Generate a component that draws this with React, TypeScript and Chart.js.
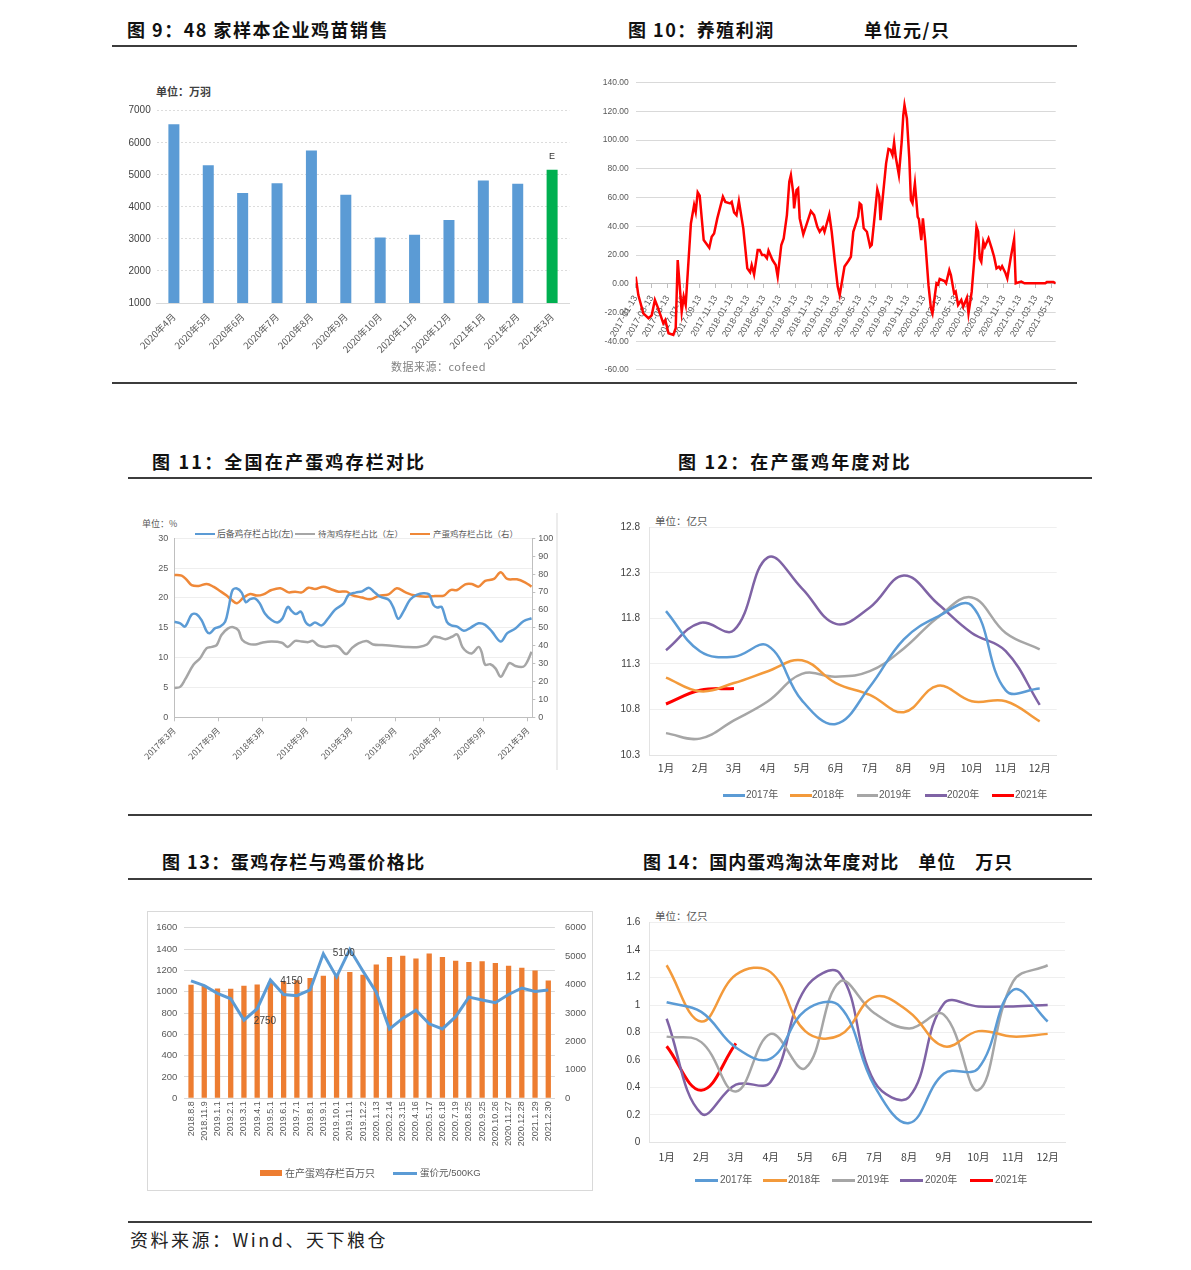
import React, { useEffect, useRef } from "react";
import { Chart, registerables } from "chart.js";

Chart.register(...registerables);

const CJK = '"Noto Sans CJK SC", "Noto Sans", sans-serif';
const NUM = '"Liberation Sans", "Noto Sans CJK SC", sans-serif';
const NARROW = '"Liberation Sans Narrow", "Liberation Sans", "Noto Sans CJK SC", sans-serif';
Chart.defaults.font.family = NUM;

// ---------------- 图9 ----------------
const c9Months = ["2020年4月", "2020年5月", "2020年6月", "2020年7月", "2020年8月", "2020年9月", "2020年10月", "2020年11月", "2020年12月", "2021年1月", "2021年2月", "2021年3月"];
const c9Sales = [6580, 5300, 4430, 4740, 5760, 4380, 3040, 3130, 3590, 4820, 4720, 5160];
const c9EstimateMark = "E";

// ---------------- 图10 ----------------
// months since 2017-01-13
const c10Month = [0, 0.33, 0.95, 1.6, 2.0, 2.4, 2.8, 3.45, 3.7, 4.1, 4.7, 5.0, 5.25, 5.75, 6.0, 6.25, 6.9, 7.3, 7.5, 7.75, 8.0, 8.5, 9.2, 9.5, 9.8, 10.2, 10.9, 11.2, 11.8, 12.0, 12.3, 12.6, 12.9, 13.45, 13.95, 14.3, 14.5, 14.8, 15.25, 15.5, 15.8, 16.1, 16.4, 16.6, 17.1, 17.5, 17.75, 18.2, 18.5, 18.9, 19.2, 19.4, 19.7, 19.8, 20.1, 20.3, 20.5, 20.95, 21.4, 21.9, 22.3, 22.7, 23.0, 23.4, 23.6, 24.2, 24.5, 24.9, 25.25, 25.5, 26.1, 26.6, 26.9, 27.2, 27.8, 28.0, 28.2, 28.5, 28.9, 29.3, 29.5, 29.8, 30.2, 30.45, 30.6, 30.95, 31.3, 31.6, 31.85, 32.1, 32.3, 32.5, 32.9, 33.25, 33.45, 33.6, 33.9, 34.2, 34.4, 34.6, 34.9, 35.25, 35.4, 35.7, 35.9, 36.2, 36.6, 36.9, 37.1, 37.4, 37.6, 37.8, 38.0, 38.6, 38.8, 39.2, 39.4, 39.8, 40.0, 40.3, 40.7, 40.95, 41.4, 41.6, 42.0, 42.3, 42.6, 42.8, 43.0, 43.2, 43.45, 43.65, 44.1, 44.5, 44.8, 45.1, 45.4, 45.6, 45.8, 46.2, 46.45, 46.9, 47.3, 47.5, 48.2, 48.6, 51.2, 51.4, 52.2, 52.5];
const c10Profit = [5, -7.9, -20.6, -24, -22, -11.3, -17, -27.6, -25.3, -34.5, -35.7, -31, 16.5, -19.5, -9, -14.8, 42, 54.8, 50, 63.6, 61.3, 30.4, 25, 32.7, 35, 45.5, 60.6, 57, 56, 57, 49.7, 47.8, 57.6, 38.6, 10.7, 8, 13, 6.5, 23.5, 23.5, 20, 20, 17.7, 23, 16.5, 13, 4.9, 27, 31.6, 47.8, 71, 75.7, 63, 52.5, 65.2, 66.4, 45.5, 34.4, 42, 50.6, 47.8, 39.7, 36.2, 39.3, 36.2, 48.3, 36.2, 15.3, -2, -7.9, 12, 16, 18.8, 36.2, 46.6, 56, 55, 38.6, 36.2, 25.8, 27, 43.2, 65.7, 60.6, 44.3, 64, 83.8, 93.8, 93.3, 89.6, 98.4, 88.4, 75.7, 98.9, 117.4, 124.4, 115, 87.3, 58.3, 56, 69.9, 46.6, 45, 30.4, 45.5, 29.2, -1, -17, -20.6, -7.9, 0.3, -0.5, 3.3, 1.9, 0.3, 9.5, 6, -6.7, -5.5, -14.8, -11.3, -16, -9.7, -20.6, -5.5, 15.3, 39.7, 36.2, 17.7, 15.3, 29.2, 25.8, 31.6, 24.6, 18.8, 10.7, 11.8, 10.2, 12.2, 7.7, 3.7, 18.8, 30.9, 0.3, 1.5, 0.3, 0.3, 1.2, 1.2, 0.3];
const c10TickLabels = ["2017-01-13", "2017-03-13", "2017-05-13", "2017-07-13", "2017-09-13", "2017-11-13", "2018-01-13", "2018-03-13", "2018-05-13", "2018-07-13", "2018-09-13", "2018-11-13", "2019-01-13", "2019-03-13", "2019-05-13", "2019-07-13", "2019-09-13", "2019-11-13", "2020-01-13", "2020-03-13", "2020-05-13", "2020-07-13", "2020-09-13", "2020-11-13", "2021-01-13", "2021-03-13", "2021-05-13"];

// ---------------- 图11 ----------------
// months since 2017-03
const c11ReserveMonth = [0, 0.8, 1.45, 2.35, 3.0, 3.7, 4.4, 4.85, 5.5, 6.2, 6.9, 7.4, 7.9, 8.5, 9.15, 9.7, 10.3, 11.0, 11.6, 12.3, 13.2, 14.0, 14.7, 15.4, 15.95, 16.5, 17.2, 17.8, 18.4, 19.1, 20.0, 20.9, 21.8, 23.0, 23.65, 24.6, 25.5, 26.4, 27.05, 27.95, 29.1, 29.7, 30.4, 31.1, 32.0, 32.9, 33.8, 34.6, 35.2, 35.7, 36.3, 37.0, 37.6, 38.4, 39.3, 40.2, 41.3, 42.2, 43.1, 44.3, 45.2, 46.3, 47.4, 48.5];
const c11ReserveShare = [16.0, 15.75, 15.2, 17.2, 17.3, 16.3, 14.4, 14.1, 14.9, 15.2, 16.0, 18.5, 21.3, 21.6, 20.9, 19.3, 19.8, 19.9, 19.1, 17.4, 16.3, 15.9, 16.6, 18.5, 17.8, 17.3, 17.7, 16.0, 15.4, 15.9, 15.4, 16.6, 18.0, 19.1, 20.5, 20.9, 21.1, 21.7, 21.1, 20.2, 19.7, 18.5, 16.5, 17.7, 19.7, 20.5, 20.8, 20.6, 18.8, 18.4, 18.5, 16.0, 15.4, 15.2, 14.5, 15.0, 15.75, 15.5, 14.4, 12.7, 14.1, 14.9, 16.1, 16.6];
const c11CullMonth = [0, 0.8, 1.45, 2.6, 3.5, 4.4, 5.1, 5.75, 6.4, 7.3, 8.0, 8.7, 9.2, 10.1, 11.0, 11.9, 13.2, 14.6, 15.4, 16.4, 17.3, 18.2, 18.8, 19.6, 20.5, 21.6, 22.3, 23.3, 24.1, 25.0, 26.1, 27.0, 28.2, 29.5, 31.4, 33.2, 34.3, 35.2, 35.9, 36.8, 37.7, 38.4, 39.1, 39.7, 40.4, 41.3, 41.7, 42.2, 42.9, 43.6, 44.3, 44.9, 45.5, 46.3, 47.4, 47.9, 48.5];
const c11CullShare = [4.9, 5.1, 6.3, 8.8, 9.9, 11.6, 11.8, 12.1, 13.8, 14.9, 15.1, 14.6, 13.0, 12.3, 12.2, 12.5, 12.7, 12.5, 11.8, 12.8, 12.7, 12.6, 12.8, 12.0, 11.8, 12.0, 11.8, 10.6, 11.6, 12.4, 12.8, 12.2, 12.1, 12.0, 11.8, 11.8, 12.2, 13.5, 13.4, 13.1, 13.5, 13.9, 11.8, 11.0, 10.7, 11.8, 11.0, 8.8, 8.9, 8.2, 6.8, 7.9, 9.1, 8.6, 8.5, 9.3, 11.0];
const c11LayingMonth = [0, 1.0, 1.7, 2.35, 3.3, 4.4, 5.3, 6.2, 7.1, 7.8, 8.5, 9.4, 10.3, 11.2, 12.1, 13.2, 14.4, 15.5, 16.4, 17.3, 18.2, 19.1, 20.25, 21.2, 22.3, 23.4, 24.1, 25.5, 26.6, 27.7, 29.1, 30.2, 31.4, 32.7, 34.1, 35.4, 36.6, 37.5, 38.4, 39.5, 40.4, 41.3, 42.2, 43.4, 44.3, 45.2, 46.5, 47.6, 48.5];
const c11LayingShare = [79.5, 79.1, 76.7, 73.9, 73.4, 74.5, 73.0, 70.6, 68.0, 65.5, 63.7, 66.9, 68.9, 68.0, 68.7, 71.1, 72.1, 69.8, 70.2, 69.8, 72.4, 71.7, 73.0, 71.7, 70.2, 70.2, 68.3, 66.9, 65.9, 67.8, 68.7, 72.1, 69.8, 68.0, 67.4, 67.8, 68.0, 71.1, 71.1, 74.3, 74.5, 73.0, 76.2, 77.3, 81.0, 77.3, 77.1, 75.4, 73.0];
const c11TickLabels = ["2017年3月", "2017年9月", "2018年3月", "2018年9月", "2019年3月", "2019年9月", "2020年3月", "2020年9月", "2021年3月"];
const c11SeriesNames = ["后备鸡存栏占比(左)", "待淘鸡存栏占比（左）", "产蛋鸡存栏占比（右）"];

// ---------------- 图12 ----------------
const monthLabels = ["1月", "2月", "3月", "4月", "5月", "6月", "7月", "8月", "9月", "10月", "11月", "12月"];
const yearNames = ["2017年", "2018年", "2019年", "2020年", "2021年"];
const c12Y2017 = [11.88, 11.44, 11.38, 11.5, 10.9, 10.64, 11.05, 11.57, 11.82, 11.94, 11.01, 11.03];
const c12Y2018 = [11.15, 11.0, 11.09, 11.22, 11.34, 11.09, 10.96, 10.77, 11.06, 10.89, 10.89, 10.67];
const c12Y2019 = [10.54, 10.48, 10.68, 10.89, 11.19, 11.16, 11.22, 11.47, 11.81, 12.03, 11.64, 11.46];
const c12Y2020 = [11.45, 11.75, 11.67, 12.47, 12.13, 11.74, 11.92, 12.27, 11.96, 11.64, 11.44, 10.85];
const c12Y2021 = [10.86, 11.01, 11.03];

// ---------------- 图13 ----------------
const c13Dates = ["2018.8.8", "2018.11.9", "2019.1.1", "2019.2.1", "2019.3.1", "2019.4.1", "2019.5.1", "2019.6.1", "2019.7.1", "2019.8.1", "2019.9.1", "2019.10.1", "2019.11.1", "2019.12.2", "2020.1.13", "2020.2.14", "2020.3.15", "2020.4.16", "2020.5.17", "2020.6.18", "2020.7.19", "2020.8.25", "2020.9.25", "2020.10.26", "2020.11.27", "2020.12.28", "2021.1.29", "2021.2.30"];
const c13Stock = [1065, 1055, 1030, 1028, 1055, 1068, 1085, 1095, 1107, 1129, 1150, 1168, 1184, 1158, 1254, 1325, 1337, 1312, 1358, 1325, 1291, 1279, 1285, 1270, 1242, 1224, 1199, 1104];
const c13EggPrice = [4130, 3960, 3690, 3500, 2750, 3150, 4160, 3650, 3610, 3810, 5080, 4270, 5240, 4470, 3730, 2440, 2810, 3100, 2620, 2440, 2870, 3560, 3460, 3360, 3650, 3880, 3760, 3810];
const c13SeriesNames = ["在产蛋鸡存栏百万只", "蛋价元/500KG"];
const c13Callouts = [{ index: 4, text: "2750" }, { index: 6, text: "4150" }, { index: 12, text: "5100" }];
const c13CalloutOffsets = [[21, 1], [21, 1], [-6, 4]];

// ---------------- 图14 ----------------
const c14Y2017 = [1.02, 0.95, 0.69, 0.61, 0.96, 0.99, 0.41, 0.14, 0.5, 0.54, 1.11, 0.88];
const c14Y2018 = [1.29, 0.88, 1.22, 1.24, 0.81, 0.78, 1.06, 0.95, 0.7, 0.81, 0.77, 0.79];
const c14Y2019 = [0.77, 0.73, 0.37, 0.79, 0.54, 1.17, 0.94, 0.83, 0.93, 0.38, 1.17, 1.29];
const c14Y2020 = [0.9, 0.21, 0.42, 0.44, 1.12, 1.23, 0.44, 0.33, 1.01, 0.99, 0.99, 1.0];
const c14Y2021 = [0.7, 0.38, 0.72];

// ---------------- styles ----------------
const BLUE = "#5b9bd5";
const ORANGE = "#ed7d31";
const LORANGE = "#f39a3b";
const GRAY = "#a6a6a6";
const PURPLE = "#7f63a5";
const RED = "#ff0000";
const yearColors = [BLUE, LORANGE, GRAY, PURPLE, RED];

const pts = (xs: number[], ys: number[]) => xs.map((x, i) => ({ x, y: ys[i] }));
const fixW = (w: number) => (s: any) => { s.width = w; };
const fixH = (h: number) => (s: any) => { s.height = h; };
const plain = (v: number) => String(v);

function ChartCanvas({ left, top, width, height, make }: { left: number; top: number; width: number; height: number; make: () => any }) {
  const ref = useRef<HTMLCanvasElement>(null);
  useEffect(() => {
    const chart = new Chart(ref.current as HTMLCanvasElement, make());
    return () => chart.destroy();
  }, []);
  return <canvas ref={ref} width={width} height={height} style={{ position: "absolute", left, top, width, height }} />;
}

function T({ x, cy, size, color = "#222", children, weight = 400, ls = 0, family = CJK }: any) {
  return (
    <div style={{ position: "absolute", left: x, top: cy - size * 0.6, fontSize: size, lineHeight: `${size * 1.2}px`, color, whiteSpace: "nowrap", fontFamily: family, fontWeight: weight, letterSpacing: ls }}>
      {children}
    </div>
  );
}

function Rule({ x1, x2, y }: { x1: number; x2: number; y: number }) {
  return <div style={{ position: "absolute", left: x1, top: y - 0.75, width: x2 - x1, height: 1.5, background: "#3c3c3c" }} />;
}

function Key({ x1, x2, y, color, thick = 3, text, tx, size = 10, tcolor = "#595959" }: any) {
  return (
    <>
      <div style={{ position: "absolute", left: x1, top: y - thick / 2, width: x2 - x1, height: thick, background: color }} />
      <T x={tx} cy={y} size={size} color={tcolor} family={NUM}>{text}</T>
    </>
  );
}

const noop = { legend: { display: false }, tooltip: { enabled: false } };

function makeC9() {
  const ePlugin = {
    id: "emark",
    afterDatasetsDraw(chart: any) {
      const meta = chart.getDatasetMeta(0);
      const el = meta.data[meta.data.length - 1];
      const ctx = chart.ctx;
      ctx.save();
      ctx.font = `9px ${NUM}`;
      ctx.fillStyle = "#333";
      ctx.textAlign = "center";
      ctx.textBaseline = "middle";
      ctx.fillText(c9EstimateMark, el.x, el.y - 13);
      ctx.restore();
    },
  };
  return {
    type: "bar",
    data: {
      labels: c9Months,
      datasets: [{
        data: c9Sales,
        backgroundColor: c9Sales.map((_, i) => (i === c9Sales.length - 1 ? "#00b050" : BLUE)),
        barPercentage: 0.32,
        categoryPercentage: 1,
      }],
    },
    options: {
      responsive: false, animation: false, devicePixelRatio: 1,
      layout: { padding: { left: 0, right: 22.7, top: 50.7, bottom: 0 } },
      plugins: noop,
      scales: {
        x: {
          grid: { display: false, drawTicks: false },
          border: { color: "#d9d9d9" },
          ticks: { font: { size: 9.5, family: CJK }, color: "#595959", minRotation: 45, maxRotation: 45, autoSkip: false, padding: 8 },
          afterFit: fixH(79),
        },
        y: {
          min: 1000, max: 7000,
          ticks: { stepSize: 1000, font: { size: 10 }, color: "#404040", padding: 6, callback: plain },
          grid: { color: "#dcdcdc", drawTicks: false },
          border: { display: false, dash: [2, 2] },
          afterFit: fixW(44.7),
        },
      },
    },
    plugins: [ePlugin],
  };
}

function makeC10() {
  return {
    type: "line",
    data: {
      datasets: [{ data: pts(c10Month, c10Profit), borderColor: RED, borderWidth: 2.5, pointRadius: 0, tension: 0 }],
    },
    options: {
      responsive: false, animation: false, devicePixelRatio: 1,
      layout: { padding: { left: 0, right: 22.3, top: 20.7, bottom: 12 } },
      plugins: noop,
      scales: {
        x: {
          type: "linear", position: { y: 0 }, min: 0, max: 52.5,
          ticks: {
            stepSize: 2, autoSkip: false, includeBounds: false, minRotation: 60, maxRotation: 60, padding: 6,
            font: { size: 9, family: NARROW }, color: "#595959",
            callback: (v: number) => c10TickLabels[Math.round(v / 2)] ?? "",
          },
          grid: { drawOnChartArea: false, tickLength: 4, color: "#bfbfbf" },
          border: { color: "#bfbfbf" },
        },
        y: {
          min: -60, max: 140,
          ticks: { stepSize: 20, font: { size: 8.5, family: NARROW }, color: "#595959", padding: 7, callback: (v: number) => v.toFixed(2) },
          grid: { color: "#d9d9d9", drawTicks: false },
          border: { display: false },
          afterFit: fixW(35.7),
        },
      },
    },
  };
}

function makeC11() {
  const common = { borderWidth: 2.5, pointRadius: 0, tension: 0.35 };
  return {
    type: "line",
    data: {
      datasets: [
        { ...common, data: pts(c11ReserveMonth, c11ReserveShare), borderColor: BLUE, yAxisID: "y" },
        { ...common, data: pts(c11CullMonth, c11CullShare), borderColor: GRAY, yAxisID: "y" },
        { ...common, data: pts(c11LayingMonth, c11LayingShare), borderColor: "#ef8838", yAxisID: "y1" },
      ],
    },
    options: {
      responsive: false, animation: false, devicePixelRatio: 1,
      layout: { padding: { left: 0, right: 0, top: 28.3, bottom: 0 } },
      plugins: noop,
      scales: {
        x: {
          type: "linear", min: 0, max: 48.6,
          ticks: {
            stepSize: 6, autoSkip: false, includeBounds: false, minRotation: 45, maxRotation: 45, padding: 4,
            font: { size: 8.5, family: CJK }, color: "#595959",
            callback: (v: number) => c11TickLabels[Math.round(v / 6)] ?? "",
          },
          grid: { drawOnChartArea: false, tickLength: 4, color: "#bfbfbf" },
          border: { color: "#bfbfbf" },
          afterFit: fixH(57.7),
        },
        y: {
          min: 0, max: 30,
          ticks: { stepSize: 5, font: { size: 9 }, color: "#595959", padding: 6 },
          grid: { color: "#eeeeee", drawTicks: false },
          border: { color: "#bfbfbf" },
          afterFit: fixW(46.3),
        },
        y1: {
          position: "right", min: 0, max: 100,
          ticks: { stepSize: 10, font: { size: 9 }, color: "#595959", padding: 3 },
          grid: { drawOnChartArea: false, tickLength: 3, color: "#bfbfbf" },
          border: { color: "#bfbfbf" },
          afterFit: fixW(25.7),
        },
      },
    },
  };
}

function makeYearly(series: number[][], min: number, max: number, step: number, fmt: (v: number) => string, pad: any, yW: number, xH: number, xPad: number) {
  return {
    type: "line",
    data: {
      labels: monthLabels,
      datasets: series.map((d, i) => ({
        data: d, borderColor: yearColors[i], borderWidth: i === 4 ? 3 : 2.5, pointRadius: 0, tension: 0.4,
      })),
    },
    options: {
      responsive: false, animation: false, devicePixelRatio: 1,
      layout: { padding: pad },
      plugins: noop,
      scales: {
        x: {
          offset: true,
          ticks: { font: { size: 10.5, family: CJK }, color: "#404040", padding: xPad, autoSkip: false, maxRotation: 0 },
          grid: { display: false, drawTicks: false },
          border: { color: "#e3e3e3" },
          afterFit: fixH(xH),
        },
        y: {
          min, max,
          ticks: { stepSize: step, font: { size: 10 }, color: "#404040", padding: 9, callback: fmt },
          grid: { color: "#efefef", drawTicks: false },
          border: { color: "#e3e3e3" },
          afterFit: fixW(yW),
        },
      },
    },
  };
}

function makeC12() {
  return makeYearly([c12Y2017, c12Y2018, c12Y2019, c12Y2020, c12Y2021], 10.3, 12.8, 0.5, (v) => v.toFixed(1), { left: 0, right: 5.3, top: 17.3, bottom: 20 }, 37, 20, 7);
}

function makeC14() {
  return makeYearly([c14Y2017, c14Y2018, c14Y2019, c14Y2020, c14Y2021], 0, 1.6, 0.2, (v) => String(parseFloat(v.toFixed(1))), { left: 0, right: 7, top: 17.7, bottom: 0 }, 37.3, 27.7, 8);
}

function makeC13() {
  const callouts = {
    id: "callouts",
    afterDatasetsDraw(chart: any) {
      const meta = chart.getDatasetMeta(1);
      const ctx = chart.ctx;
      ctx.save();
      ctx.font = `10px ${NUM}`;
      ctx.fillStyle = "#404040";
      ctx.textAlign = "center";
      ctx.textBaseline = "middle";
      c13Callouts.forEach((c, k) => {
        const el = meta.data[c.index];
        ctx.fillText(c.text, el.x + c13CalloutOffsets[k][0], el.y + c13CalloutOffsets[k][1]);
      });
      ctx.restore();
    },
  };
  return {
    type: "bar",
    data: {
      labels: c13Dates,
      datasets: [
        { type: "bar", data: c13Stock, backgroundColor: ORANGE, barPercentage: 0.4, categoryPercentage: 1, yAxisID: "y", order: 2 },
        { type: "line", data: c13EggPrice, borderColor: BLUE, borderWidth: 3, pointRadius: 0, tension: 0, yAxisID: "y2", order: 1 },
      ],
    },
    options: {
      responsive: false, animation: false, devicePixelRatio: 1,
      layout: { padding: { left: 0, right: 0, top: 12, bottom: 0 } },
      plugins: noop,
      scales: {
        x: {
          ticks: { font: { size: 9 }, color: "#595959", minRotation: 90, maxRotation: 90, autoSkip: false, padding: 3 },
          grid: { display: false, drawTicks: false },
          border: { color: "#d9d9d9" },
          afterFit: fixH(91.7),
        },
        y: {
          min: 0, max: 1600,
          ticks: { stepSize: 200, font: { size: 9.5 }, color: "#595959", padding: 7, callback: plain },
          grid: { color: "#d9d9d9", drawTicks: false },
          border: { display: false },
          afterFit: fixW(36.4),
        },
        y2: {
          position: "right", min: 0, max: 6000,
          ticks: { stepSize: 1000, font: { size: 9.5 }, color: "#595959", padding: 10, callback: plain },
          grid: { drawOnChartArea: false, drawTicks: false },
          border: { display: false },
          afterFit: fixW(37.1),
        },
      },
    },
    plugins: [callouts],
  };
}

export default function App() {
  const titleProps = { size: 18, weight: 700, ls: 1.5, color: "#111" };
  return (
    <div style={{ position: "absolute", left: 0, top: 0, width: 1191, height: 1270, background: "#fff", overflow: "hidden" }}>
      {/* Row 1 */}
      <T x={127} cy={30} {...titleProps}>图 9：48 家样本企业鸡苗销售</T>
      <T x={628} cy={30} {...titleProps}>图 10：养殖利润</T>
      <T x={864} cy={30} {...titleProps}>单位元/只</T>
      <Rule x1={112} x2={1077} y={46} />
      <Rule x1={112} x2={1077} y={383} />

      <T x={156} cy={92} size={11} color="#404040" weight={700}>单位：万羽</T>
      <ChartCanvas left={112} top={60} width={480} height={322} make={makeC9} />
      <T x={391} cy={367} size={11} color="#808080" ls={0.5}>数据来源：cofeed</T>

      <ChartCanvas left={600} top={62} width={478} height={320} make={makeC10} />

      {/* Row 2 */}
      <T x={152} cy={462} {...titleProps} ls={2.2}>图 11：全国在产蛋鸡存栏对比</T>
      <T x={678} cy={462} {...titleProps} ls={2.2}>图 12：在产蛋鸡年度对比</T>
      <Rule x1={128} x2={1092} y={478} />
      <Rule x1={128} x2={1092} y={815} />

      <T x={142} cy={524} size={9} color="#595959">单位：%</T>
      <Key x1={195} x2={215} y={534} color={BLUE} thick={2.5} text={c11SeriesNames[0]} tx={217} size={8.8} />
      <Key x1={295} x2={315} y={534} color={GRAY} thick={2.5} text={c11SeriesNames[1]} tx={318} size={8.5} />
      <Key x1={410} x2={430} y={534} color="#ef8838" thick={2.5} text={c11SeriesNames[2]} tx={433} size={8.5} />
      <ChartCanvas left={128} top={510} width={430} height={265} make={makeC11} />
      <div style={{ position: "absolute", left: 556, top: 513, width: 2, height: 257, background: "#ececec" }} />

      <T x={655} cy={521.7} size={10.5} color="#595959">单位：亿只</T>
      <ChartCanvas left={612} top={510} width={450} height={285} make={makeC12} />
      <Key x1={722.7} x2={745} y={795} color={yearColors[0]} text={yearNames[0]} tx={746} />
      <Key x1={790} x2={811.7} y={795} color={yearColors[1]} text={yearNames[1]} tx={812} />
      <Key x1={856.7} x2={878.3} y={795} color={yearColors[2]} text={yearNames[2]} tx={879} />
      <Key x1={925} x2={946.7} y={795} color={yearColors[3]} text={yearNames[3]} tx={947} />
      <Key x1={991.7} x2={1014} y={795} color={yearColors[4]} text={yearNames[4]} tx={1015} />

      {/* Row 3 */}
      <T x={162} cy={862} {...titleProps}>图 13：蛋鸡存栏与鸡蛋价格比</T>
      <T x={643} cy={862} {...titleProps} ls={1}>图 14：国内蛋鸡淘汰年度对比　单位　万只</T>
      <Rule x1={128} x2={1092} y={879} />
      <Rule x1={128} x2={1092} y={1222} />

      <div style={{ position: "absolute", left: 147, top: 911, width: 444, height: 278, border: "1px solid #d9d9d9" }} />
      <ChartCanvas left={148} top={912} width={444} height={278} make={makeC13} />
      <div style={{ position: "absolute", left: 260, top: 1170, width: 21.5, height: 6, background: ORANGE }} />
      <T x={285} cy={1173} size={10} color="#595959">{c13SeriesNames[0]}</T>
      <div style={{ position: "absolute", left: 393, top: 1171.5, width: 24, height: 3, background: BLUE }} />
      <T x={420} cy={1173} size={9.5} color="#595959" family={NUM}>{c13SeriesNames[1]}</T>

      <T x={655} cy={916.7} size={10.5} color="#595959">单位：亿只</T>
      <ChartCanvas left={612} top={905} width={460} height={265} make={makeC14} />
      <Key x1={695} x2={718.3} y={1180} color={yearColors[0]} text={yearNames[0]} tx={720} />
      <Key x1={763.3} x2={786.7} y={1180} color={yearColors[1]} text={yearNames[1]} tx={788} />
      <Key x1={831.7} x2={855} y={1180} color={yearColors[2]} text={yearNames[2]} tx={857} />
      <Key x1={900} x2={923.3} y={1180} color={yearColors[3]} text={yearNames[3]} tx={925} />
      <Key x1={970} x2={993.3} y={1180} color={yearColors[4]} text={yearNames[4]} tx={995} />

      <T x={130} cy={1240} size={18} color="#222" ls={2.5}>资料来源：Wind、天下粮仓</T>
    </div>
  );
}
